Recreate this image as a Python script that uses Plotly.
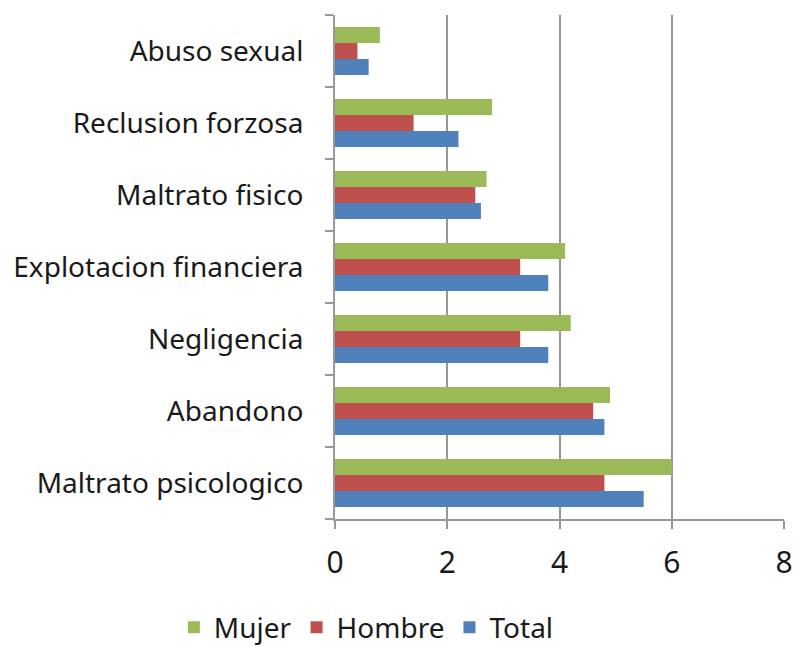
import plotly.graph_objects as go

categories = ["Maltrato psicologico", "Abandono", "Negligencia", "Explotacion financiera",
              "Maltrato fisico", "Reclusion forzosa", "Abuso sexual"]
mujer = [6.0, 4.9, 4.2, 4.1, 2.7, 2.8, 0.8]
hombre = [4.8, 4.6, 3.3, 3.3, 2.5, 1.4, 0.4]
total = [5.5, 4.8, 3.8, 3.8, 2.6, 2.2, 0.6]

font = "Noto Sans"
grey = "#989898"

fig = go.Figure()
fig.add_trace(go.Bar(y=categories, x=total, name="Total", orientation="h",
                     marker=dict(color="#4F81BD", line=dict(width=0))))
fig.add_trace(go.Bar(y=categories, x=hombre, name="Hombre", orientation="h",
                     marker=dict(color="#C0504D", line=dict(width=0))))
fig.add_trace(go.Bar(y=categories, x=mujer, name="Mujer", orientation="h",
                     marker=dict(color="#9BBB59", line=dict(width=0))))

fig.update_layout(
    width=793, height=647,
    barmode="group", bargap=0.33, bargroupgap=0,
    plot_bgcolor="white", paper_bgcolor="white",
    margin=dict(l=335, r=9, t=15, b=128, autoexpand=False),
    font=dict(family=font, size=28, color="#1a1a1a"),
    legend=dict(orientation="h", traceorder="reversed",
                xref="container", yref="container",
                x=0.462, xanchor="center", y=0.03, yanchor="middle",
                font=dict(size=28), itemwidth=30),
    showlegend=True,
)
fig.update_xaxes(range=[0, 8], dtick=2, showgrid=True, gridcolor=grey, gridwidth=2,
                 showline=True, linecolor=grey, linewidth=2,
                 ticks="outside", ticklen=8, tickwidth=2, tickcolor=grey,
                 zeroline=False, tickfont=dict(size=30), automargin=False,
                 ticklabeloverflow="allow", ticklabelstandoff=8)
fig.update_yaxes(showline=True, linecolor=grey, linewidth=2,
                 ticks="outside", ticklen=8, tickwidth=2, tickcolor=grey,
                 tickson="boundaries", showgrid=False, automargin=False,
                 ticklabelstandoff=24)

# page body has a default margin; drop it so the figure sits at the window corner
fig.write_html("out.html", config={"displayModeBar": False},
               post_script="document.body.style.margin='0';")
